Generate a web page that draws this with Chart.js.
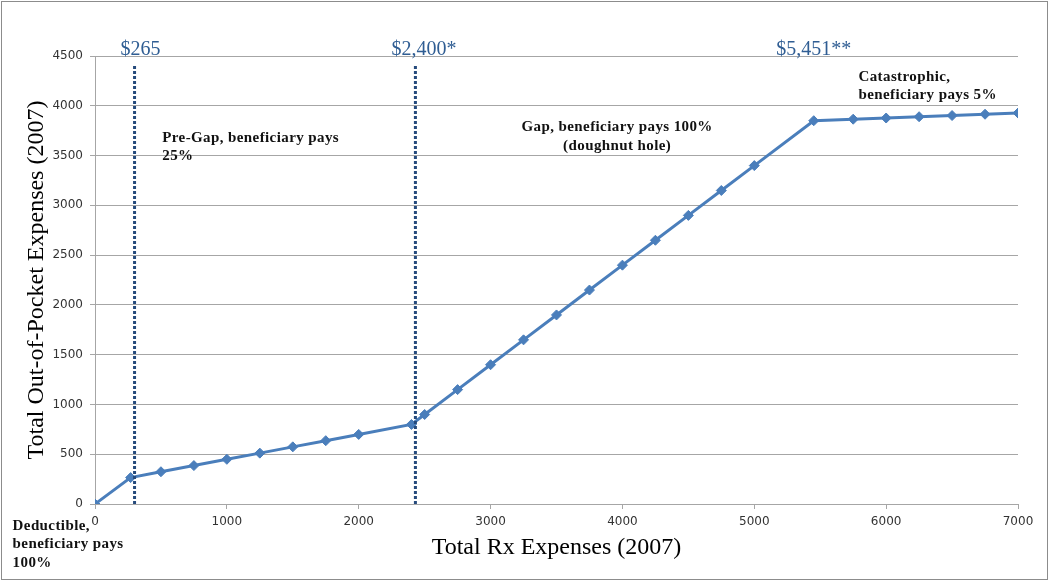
<!DOCTYPE html>
<html>
<head>
<meta charset="utf-8">
<script src="https://cdn.jsdelivr.net/npm/chart.js@4"></script>
<style>
  html, body { margin: 0; padding: 0; background: #fff; }
  #wrap { width: 1050px; height: 582px; }
</style>
</head>
<body>
<div id="wrap"><canvas id="chart" width="1050" height="582"></canvas></div>
<script>
// --- Data ---
const rxSpend = [0, 270, 500, 750, 1000, 1250, 1500, 1750, 2000, 2400, 2500, 2750, 3000, 3250, 3500,
                 3750, 4000, 4250, 4500, 4750, 5000, 5451, 5750, 6000, 6250, 6500, 6750, 7000];
const outOfPocket = [0, 265, 324, 386, 449, 511, 574, 636, 699, 799, 899, 1149, 1399, 1649, 1899,
                     2149, 2399, 2649, 2899, 3149, 3399, 3850, 3865, 3877, 3890, 3902, 3915, 3927];
const thresholdX = [300, 2430];
const thresholdTop = 4400;
const thresholdLabels = ['$265', '$2,400*', '$5,451**'];
const thresholdLabelX = [345, 2495, 5451];
const yTicks = [0, 500, 1000, 1500, 2000, 2500, 3000, 3500, 4000, 4500];
const xTicks = [0, 1000, 2000, 3000, 4000, 5000, 6000, 7000];

// phase notes: lines of text, anchor in data units
const notes = [
    { lines: ['Pre-Gap, beneficiary pays', '25%'], x: 510, y: 3680, align: 'left' },
    { lines: ['Gap, beneficiary pays 100%', '(doughnut hole)'], x: 3960, y: 3782, align: 'center' },
    { lines: ['Catastrophic,', 'beneficiary pays 5%'], x: 5790, y: 4290, align: 'left' },
    { lines: ['Deductible,', 'beneficiary pays', '100%'], x: -625, y: -220, align: 'left' }
];

// --- Styles ---
const lineBlue = '#4A7EBB';
const navy = '#254A7C';
const labelBlue = '#2F5D93';
const gridGray = '#A6A6A6';

const annotations = {
    id: 'annotations',
    beforeDraw(chart) {
        const ctx = chart.ctx;
        ctx.save();
        ctx.strokeStyle = '#8C8C8C';
        ctx.lineWidth = 1;
        ctx.strokeRect(1.5, 1.5, chart.width - 4, chart.height - 4);
        ctx.restore();
    },
    afterDraw(chart) {
        const { ctx, scales: { x, y } } = chart;
        ctx.save();
        ctx.fillStyle = labelBlue;
        ctx.font = '20px "Liberation Serif", serif';
        ctx.textAlign = 'center';
        ctx.textBaseline = 'alphabetic';
        thresholdLabels.forEach((t, i) => {
            ctx.fillText(t, x.getPixelForValue(thresholdLabelX[i]), y.getPixelForValue(4510));
        });

        ctx.fillStyle = '#111';
        ctx.font = 'bold 15px "Liberation Serif", serif';
        ctx.letterSpacing = '0.4px';
        ctx.textBaseline = 'middle';
        notes.forEach(n => {
            ctx.textAlign = n.align;
            const px = x.getPixelForValue(n.x);
            const py = y.getPixelForValue(n.y);
            n.lines.forEach((line, i) => ctx.fillText(line, px, py + i * 18.5));
        });
        ctx.restore();
    }
};

const thresholdSets = thresholdX.map(v => ({
    data: [{ x: v, y: 0 }, { x: v, y: thresholdTop }],
    borderColor: navy,
    borderWidth: 3,
    borderDash: [3, 2],
    borderCapStyle: 'butt',
    pointRadius: 0,
    fill: false,
    order: 1
}));

const tickFont = { family: 'DejaVu Sans', size: 12 };
const plain = v => String(v);

new Chart(document.getElementById('chart'), {
    type: 'line',
    data: {
        datasets: [{
            data: rxSpend.map((v, i) => ({ x: v, y: outOfPocket[i] })),
            borderColor: lineBlue,
            backgroundColor: lineBlue,
            borderWidth: 3,
            pointStyle: 'rectRot',
            pointRadius: 5,
            pointBorderWidth: 1,
            pointBackgroundColor: lineBlue,
            pointBorderColor: lineBlue,
            tension: 0,
            fill: false,
            order: 2
        }, ...thresholdSets]
    },
    options: {
        responsive: false,
        animation: false,
        events: [],
        layout: { padding: { left: 10, top: 56, right: 32, bottom: 20 } },
        plugins: { legend: { display: false }, tooltip: { enabled: false } },
        scales: {
            x: {
                type: 'linear',
                min: 0,
                max: 7000,
                afterBuildTicks: s => { s.ticks = xTicks.map(v => ({ value: v })); },
                afterFit: s => { s.height = 58; },
                grid: { drawOnChartArea: false, color: gridGray, tickLength: 5 },
                border: { color: gridGray },
                ticks: { color: '#333', padding: 6, maxRotation: 0, font: tickFont, callback: plain },
                title: {
                    display: true,
                    text: 'Total Rx Expenses (2007)',
                    color: '#000',
                    padding: 0,
                    font: { family: 'Liberation Serif', size: 24 }
                }
            },
            y: {
                min: 0,
                max: 4500,
                afterBuildTicks: s => { s.ticks = yTicks.map(v => ({ value: v })); },
                afterFit: s => { s.width = 85; },
                grid: { color: gridGray, tickLength: 5 },
                border: { color: gridGray },
                ticks: { color: '#333', padding: 7, font: tickFont, callback: plain },
                title: {
                    display: true,
                    text: 'Total Out-of-Pocket Expenses (2007)',
                    color: '#000',
                    padding: { top: 12, bottom: 0 },
                    font: { family: 'Liberation Serif', size: 24 }
                }
            }
        }
    },
    plugins: [annotations]
});
</script>
</body>
</html>
